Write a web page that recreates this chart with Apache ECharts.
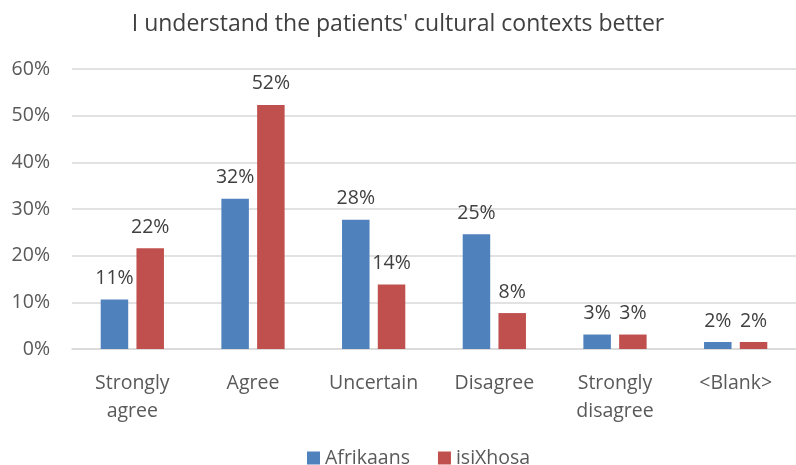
<!DOCTYPE html>
<html><head><meta charset="utf-8">
<script src="https://cdn.jsdelivr.net/npm/echarts@6/dist/echarts.min.js"></script>
<style>html,body{margin:0;padding:0;background:#fff}#c{width:796px;height:465px}</style>
</head><body><div id="c"></div>
<script>
var categories = ['Strongly\nagree', 'Agree', 'Uncertain', 'Disagree', 'Strongly\ndisagree', '<Blank>'];
var afrikaans = [10.6, 32.2, 27.7, 24.6, 3.1, 1.5];
var isiXhosa = [21.6, 52.3, 13.8, 7.7, 3.1, 1.5];
var yTicks = [0, 10, 20, 30, 40, 50, 60];
var FONT = 'Open Sans';
var chart = echarts.init(document.getElementById('c'));
function lbl() {
  return { show: true, position: 'top', distance: 11, color: '#404040', fontSize: 19.5, fontFamily: FONT,
    formatter: function (p) { return Math.round(p.value) + '%'; } };
}
chart.setOption({
  animation: false,
  title: { text: "I understand the patients' cultural contexts better", left: 'center', top: 8,
    textStyle: { fontFamily: FONT, fontSize: 23, fontWeight: 'normal', color: '#404040' } },
  legend: { bottom: -8, left: 302, itemWidth: 13, itemHeight: 13, itemGap: 28, icon: 'rect',
    textStyle: { fontFamily: FONT, fontSize: 19.5, color: '#595959' } },
  grid: { left: 72, right: -12, top: 69, bottom: 116 },
  xAxis: { type: 'category', data: categories,
    axisLine: { lineStyle: { color: '#d9d9d9', width: 1.5 } }, axisTick: { show: false },
    axisLabel: { color: '#595959', fontSize: 19.5, fontFamily: FONT, margin: 20, lineHeight: 28, interval: 0 } },
  yAxis: { type: 'value', min: yTicks[0], max: yTicks[yTicks.length - 1], interval: 10,
    axisLabel: { formatter: '{value}%', color: '#595959', fontSize: 19.5, fontFamily: FONT, margin: 22 },
    splitLine: { lineStyle: { color: '#d9d9d9', width: 1.5 } }, axisLine: { show: false }, axisTick: { show: false } },
  series: [
    { name: 'Afrikaans', type: 'bar', data: afrikaans, barWidth: 27.5, barGap: '30%',
      itemStyle: { color: '#4f81bd' }, label: lbl() },
    { name: 'isiXhosa', type: 'bar', data: isiXhosa, barWidth: 27.5,
      itemStyle: { color: '#c0504d' }, label: lbl() }
  ]
});
</script></body></html>
